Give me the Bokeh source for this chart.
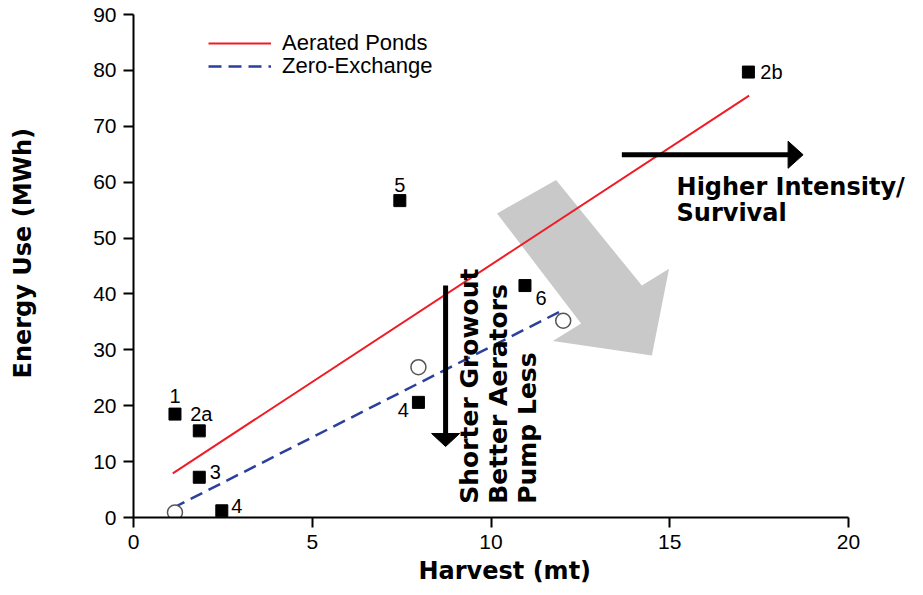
import math
from bokeh.plotting import figure
from bokeh.models import ColumnDataSource, Legend, LegendItem, Range1d, FixedTicker, LinearAxis, Title
from bokeh.core.properties import value
from bokeh.embed import file_html
from bokeh.resources import INLINE

# ---------------- data ----------------
sq_x = [1.16, 1.84, 1.84, 2.47, 7.45, 7.97, 10.95, 17.20]
sq_y = [18.5, 15.5, 7.2, 1.2, 56.7, 20.6, 41.5, 79.7]
sq_lab = ["1", "2a", "3", "4", "5", "4", "6", "2b"]
circ_x = [1.16, 7.97, 12.02]
circ_y = [0.9, 26.9, 35.2]
aer_x = [1.10, 17.22]
aer_y = [7.9, 75.5]
zero_x = [1.10, 11.98]
zero_y = [1.7, 37.0]
x_ticks = [0, 5, 10, 15, 20]
y_ticks = [0, 10, 20, 30, 40, 50, 60, 70, 80, 90]
x_bounds = (0, 20)
y_bounds = (0, 90)
x_title = "Harvest (mt)"
y_title = "Energy Use (MWh)"

# annotation geometry (data units)
gray_x = [10.17, 11.82, 14.22, 14.98, 14.50, 11.73, 12.52]
gray_y = [54.4, 60.4, 41.5, 44.5, 29.0, 31.6, 34.7]
harrow_x = [13.66, 18.73]
harrow_y = [64.9, 64.9]
varrow_x = [8.73, 8.73]
varrow_y = [41.5, 12.7]
vt_text = ["Shorter Growout", "Better Aerators", "Pump Less"]
vt_x = [9.41, 10.20, 11.01]
vt_y = [2.45, 2.45, 2.45]
ht_text = ["Higher Intensity/", "Survival"]
ht_x = [15.19, 15.19]
ht_y = [59.1, 54.4]

# label offsets (screen px, y down)
lab_dx = [0, 2, 16, 15, 0, -15, 16, 23]
lab_dy = [-18, -17, -5, -5, -16, 8, 12, 0]

# ---------------- layout ----------------
W, H = 915, 587
ML, MR, MT, MB = 133, 2, 14, 70
FW = W - ML - MR
FH = H - MT - MB
ppx = 715 / (x_bounds[1] - x_bounds[0])      # px per x unit
ppy = FH / (y_bounds[1] - y_bounds[0])       # px per y unit
x_end = x_bounds[0] + FW / ppx

p = figure(width=W, height=H, output_backend="svg", toolbar_location=None,
           x_range=Range1d(x_bounds[0], x_end), y_range=Range1d(*y_bounds),
           min_border_left=ML, min_border_right=MR, min_border_top=MT, min_border_bottom=MB)
p.outline_line_color = None
p.xgrid.visible = False
p.ygrid.visible = False
p.background_fill_color = "white"
p.border_fill_color = "white"

for ax, tk, bd in ((p.xaxis[0], x_ticks, x_bounds), (p.yaxis[0], y_ticks, y_bounds)):
    ax.ticker = FixedTicker(ticks=tk)
    ax.bounds = bd
    ax.axis_line_width = 2
    ax.axis_line_color = "black"
    ax.major_tick_line_width = 2
    ax.major_tick_line_color = "black"
    ax.major_tick_out = 10
    ax.major_tick_in = 0
    ax.minor_tick_out = 0
    ax.minor_tick_in = 0
    ax.major_label_text_font = "Liberation Sans"
    ax.major_label_text_font_size = "21px"
    ax.major_label_text_color = "black"
    ax.major_label_standoff = 7

# invisible spacer axis on the left so that the y title sits near the page edge
spacer = LinearAxis(ticker=FixedTicker(ticks=[y_bounds[0]]), axis_line_color=None,
                    major_tick_out=54, major_tick_in=0, minor_tick_out=0, minor_tick_in=0,
                    major_tick_line_color=None, major_label_standoff=0,
                    major_label_text_font_size="0px", major_label_text_alpha=0)
p.add_layout(spacer, "left")

title_style = dict(text_font="DejaVu Sans", text_font_style="bold",
                   text_font_size="24px", text_color="black")
p.add_layout(Title(text=x_title, align="left", offset=285, standoff=6, **title_style), "below")
p.add_layout(Title(text=y_title, align="left", offset=139, standoff=0,
                   vertical_align="bottom", **title_style), "left")

# gray big arrow
p.patch(gray_x, gray_y, fill_color="#c9c9c9", line_color=None)

# regression lines
r_aer = p.line(aer_x, aer_y, line_color="#ee1c25", line_width=2)
r_zero = p.line(zero_x, zero_y, line_color="#2b3f9c", line_width=2.5, line_dash="13 7")

# arrows
def draw_arrow(xs, ys, head_len, head_half, width):
    dxp = (xs[1] - xs[0]) * ppx
    dyp = (ys[1] - ys[0]) * ppy
    L = math.hypot(dxp, dyp)
    ux, uy = dxp / L, dyp / L
    bx = xs[1] - ux * head_len / ppx
    by = ys[1] - uy * head_len / ppy
    p.line([xs[0], bx + ux * 1 / ppx], [ys[0], by + uy * 1 / ppy],
           line_color="black", line_width=width, line_cap="butt")
    nx, ny = -uy, ux
    hx = [xs[1], bx + nx * head_half / ppx, bx - nx * head_half / ppx]
    hy = [ys[1], by + ny * head_half / ppy, by - ny * head_half / ppy]
    p.patch(hx, hy, fill_color="black", line_color="black", line_width=1)

draw_arrow(harrow_x, harrow_y, 15, 13.5, 5)
draw_arrow(varrow_x, varrow_y, 13, 14, 5)

# markers
p.scatter(circ_x, circ_y, marker="circle", size=15, fill_color="white",
          line_color="#555555", line_width=1.5)
p.scatter(sq_x, sq_y, marker="square", size=12, fill_color="black", line_color="black")

src_lab = ColumnDataSource(dict(x=sq_x, y=sq_y, t=sq_lab, dx=lab_dx, dy=lab_dy))
p.text(x="x", y="y", text="t", x_offset="dx", y_offset="dy", source=src_lab,
       text_font=value("Liberation Sans"), text_font_size="20px", text_color="black",
       text_align="center", text_baseline="middle")

# annotation texts
p.text(x=vt_x, y=vt_y, text=vt_text, angle=math.pi / 2,
       text_font=value("DejaVu Sans"), text_font_style="bold", text_font_size="25px",
       text_color="black", text_align="left", text_baseline="middle")
p.text(x=ht_x, y=ht_y, text=ht_text,
       text_font=value("DejaVu Sans"), text_font_style="bold", text_font_size="24px",
       text_color="black", text_align="left", text_baseline="middle")

# legend (one item per legend so the row spacing can be set exactly)
def add_legend(label, rend, ybot):
    lg = Legend(items=[LegendItem(label=label, renderers=[rend])], location=(75, ybot))
    lg.label_text_font = "Liberation Sans"
    lg.label_text_font_size = "22px"
    lg.label_text_color = "black"
    lg.glyph_width = 63
    lg.glyph_height = 22
    lg.label_height = 22
    lg.label_standoff = 11
    lg.spacing = 0
    lg.padding = 0
    lg.margin = 0
    lg.border_line_color = None
    lg.background_fill_alpha = 0
    p.add_layout(lg, "center")

add_legend("Aerated Ponds", r_aer, 461)
add_legend("Zero-Exchange", r_zero, 438)

open("out.html", "w").write(file_html(p, INLINE))
